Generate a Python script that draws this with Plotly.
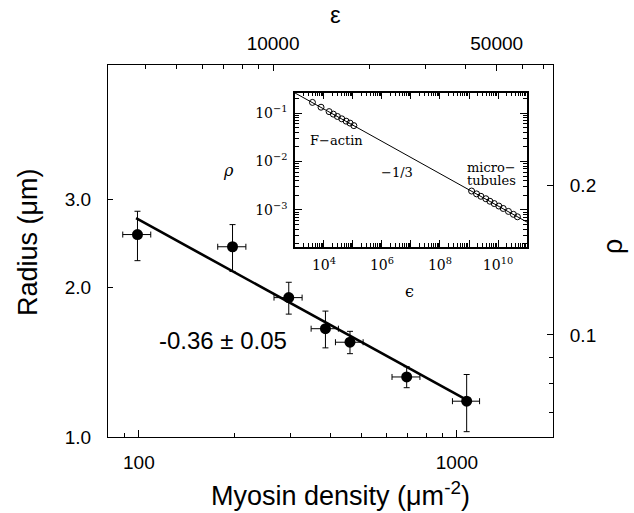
import plotly.graph_objects as go

# ---- main data ----
density = [99, 197, 296, 386, 461, 695, 1073]
radius = [2.55, 2.41, 1.905, 1.65, 1.55, 1.32, 1.18]
radius_err = [0.29, 0.26, 0.14, 0.14, 0.08, 0.064, 0.155]
density_err = [10, 20, 30, 38, 46, 70, 105]
fit_density = [98, 1073]
fit_radius = [2.75, 1.187]

# ---- inset data ----
actin_eps = [4.0e3, 7.9e3, 1.5e4, 2.1e4, 2.9e4, 4.1e4, 5.8e4, 7.9e4, 1.07e5]
actin_rho = [0.166, 0.132, 0.107, 0.095, 0.085, 0.076, 0.068, 0.062, 0.055]
mt_eps = [1.23e9, 1.82e9, 2.57e9, 3.80e9, 5.25e9, 7.41e9, 1.07e10, 1.51e10, 2.29e10, 3.39e10, 4.68e10]
mt_rho = [2.45e-3, 2.14e-3, 1.91e-3, 1.70e-3, 1.51e-3, 1.35e-3, 1.20e-3, 1.07e-3, 9.3e-4, 8.1e-4, 7.2e-4]
line_eps = [1e3, 1e11]
line_rho = [0.26, 5.6e-4]

# ---- tick labels ----
y_ticks = [1.0, 2.0, 3.0]
y_ticktext = ["1.0", "2.0", "3.0"]
x_ticks = [100, 1000]
x_ticktext = ["100", "1000"]
top_ticks = [10000, 50000]
top_ticktext = ["10000", "50000"]
rho_ticks = [0.1, 0.2]
rho_ticktext = ["0.1", "0.2"]
inset_x_ticks = [10 ** k for k in range(3, 12)]
inset_x_text = ["" if k % 2 else "10<sup>%d</sup>" % k for k in range(3, 12)]
inset_y_ticks = [1e-3, 1e-2, 1e-1]
inset_y_text = ["10<sup>−3</sup>", "10<sup>−2</sup>", "10<sup>−1</sup>"]

SANS = "Liberation Sans"
SERIF = "DejaVu Serif"

fig = go.Figure()

fig.add_trace(go.Scatter(
    x=fit_density, y=fit_radius, mode="lines",
    line=dict(color="black", width=2.6), showlegend=False, hoverinfo="skip"))
fig.add_trace(go.Scatter(
    x=density, y=radius, mode="markers",
    marker=dict(color="black", size=11),
    error_y=dict(type="data", array=radius_err, color="black", thickness=1, width=3),
    error_x=dict(type="data", array=density_err, color="black", thickness=1, width=3),
    showlegend=False))
# top / right axes holder
fig.add_trace(go.Scatter(x=[], y=[], xaxis="x2", yaxis="y2", showlegend=False))

# inset
fig.add_trace(go.Scatter(
    x=line_eps, y=line_rho, mode="lines", line=dict(color="black", width=1),
    xaxis="x3", yaxis="y3", showlegend=False))
fig.add_trace(go.Scatter(
    x=actin_eps, y=actin_rho, mode="markers",
    marker=dict(symbol="circle-open", color="black", size=6, line=dict(width=1)),
    xaxis="x3", yaxis="y3", showlegend=False))
fig.add_trace(go.Scatter(
    x=mt_eps, y=mt_rho, mode="markers",
    marker=dict(symbol="circle-open", color="black", size=6, line=dict(width=1)),
    xaxis="x3", yaxis="y3", showlegend=False))

def minor_vals(lo, hi):
    vals = []
    for k in range(lo, hi):
        for m in range(2, 10):
            vals.append(m * 10 ** k)
    return vals

axis_common = dict(type="log", showgrid=False, zeroline=False, showline=True,
                   linecolor="black", linewidth=1, ticks="inside", automargin=False,
                   tickcolor="black", tickwidth=1, tickmode="array")

fig.update_layout(
    width=634, height=513,
    margin=dict(l=108, r=81, t=65, b=76),
    paper_bgcolor="white", plot_bgcolor="white",
    font=dict(family=SANS, color="black", size=19),
    xaxis=dict(**axis_common, range=[1.903, 3.302], tickvals=x_ticks, ticktext=x_ticktext,
               ticklen=7, ticklabelstandoff=8,
               minor=dict(ticks="inside", ticklen=4, tickcolor="black", tickwidth=1,
                          tickvals=[90] + [200, 300, 400, 500, 600, 700, 800, 900]),
               tickfont=dict(size=19)),
    yaxis=dict(**axis_common, range=[0, 0.747], tickvals=y_ticks, ticktext=y_ticktext,
               ticklen=5, ticklabelstandoff=12, tickfont=dict(size=19)),
    xaxis2=dict(**axis_common, range=[3.484, 4.875], overlaying="x", side="top", anchor="y",
                tickvals=top_ticks, ticktext=top_ticktext, ticklen=6, ticklabelstandoff=6,
                minor=dict(ticks="inside", ticklen=4, tickcolor="black", tickwidth=1,
                           tickvals=[4000, 5000, 6000, 7000, 8000, 9000, 20000, 30000, 40000, 60000, 70000]),
                tickfont=dict(size=19)),
    yaxis2=dict(**axis_common, range=[-1.205, -0.458], overlaying="y", side="right", anchor="x",
                tickvals=rho_ticks, ticktext=rho_ticktext, ticklen=6, ticklabelstandoff=12,
                minor=dict(ticks="inside", ticklen=4, tickcolor="black", tickwidth=1,
                           tickvals=[0.07, 0.08, 0.09]),
                tickfont=dict(size=19)),
    xaxis3=dict(**axis_common, domain=[0.4202, 0.9416], anchor="y3", range=[3, 11],
                mirror="allticks", tickvals=inset_x_ticks, ticktext=inset_x_text,
                ticklen=7, ticklabelstandoff=5,
                minor=dict(ticks="inside", ticklen=4, tickcolor="black", tickwidth=1,
                           tickvals=minor_vals(3, 11)),
                tickfont=dict(family=SERIF, size=14)),
    yaxis3=dict(**axis_common, domain=[0.5116, 0.9255], anchor="x3", range=[-3.76, -0.58],
                mirror="allticks", tickvals=inset_y_ticks, ticktext=inset_y_text,
                ticklen=7, ticklabelstandoff=3,
                minor=dict(ticks="inside", ticklen=4, tickcolor="black", tickwidth=1,
                           tickvals=minor_vals(-4, 0)),
                tickfont=dict(family=SERIF, size=14)),
)
fig.update_layout(xaxis3_linewidth=1.5, yaxis3_linewidth=1.5)

def px(xp, yp):
    return (xp - 108) / 445, (437 - yp) / 372

ann = []
def add(text, xp, yp, size, family=SANS, angle=0, xanchor="center"):
    x, y = px(xp, yp)
    ann.append(dict(text=text, x=x, y=y, xref="paper", yref="paper", showarrow=False,
                    font=dict(family=family, size=size, color="black"),
                    textangle=angle, xanchor=xanchor, yanchor="middle"))

add("Radius (μm)", 28, 242, 27, angle=-90)
add("Myosin density (μm<sup>-2</sup>)", 340, 494, 27)
add("ε", 335, 15, 24)
add("ρ", 613, 247, 27, angle=-90)
add("-0.36 ± 0.05", 223, 340, 24)
add("F−actin", 336, 140, 13, family=SERIF)
add("−1/3", 397, 172, 13, family=SERIF)
add("micro−", 465, 167, 13, family=SERIF, xanchor="left")
add("tubules", 465, 180, 13, family=SERIF, xanchor="left")
add("<i>ρ</i>", 228, 170, 16, family=SERIF)
add("ϵ", 409, 291, 16, family=SERIF)
fig.update_layout(annotations=ann)

fig.write_html("out.html", config={"displayModeBar": False},
               post_script="document.body.style.margin='0';document.body.style.padding='0';")
